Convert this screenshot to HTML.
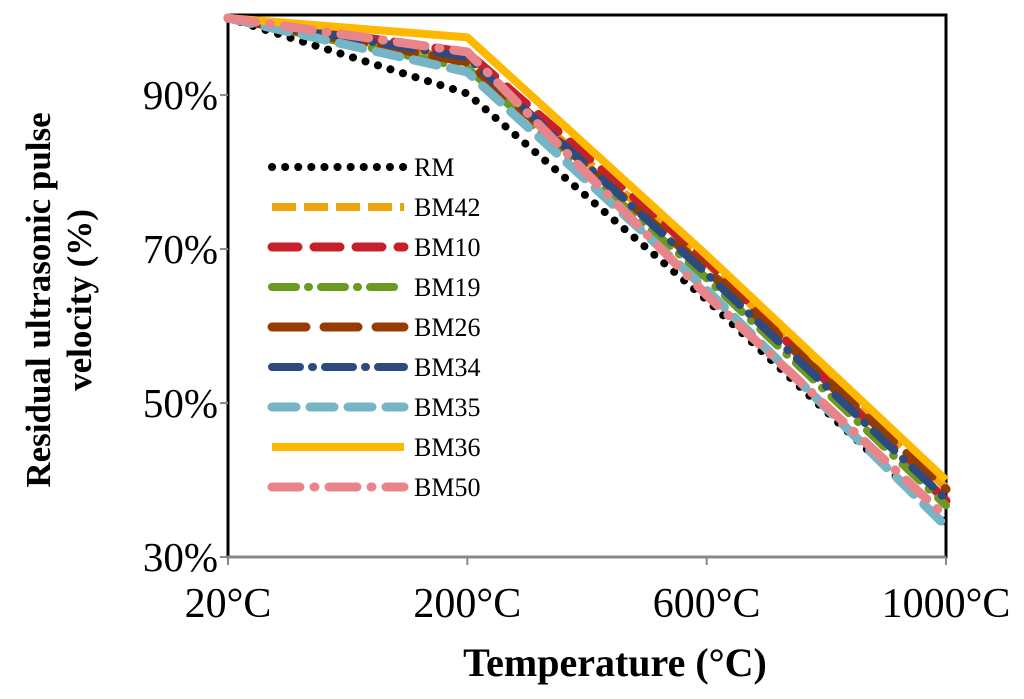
<!DOCTYPE html>
<html><head><meta charset="utf-8"><style>
body{margin:0;background:#fff;width:1024px;height:694px;overflow:hidden}
svg text{font-family:"Liberation Serif",serif}
</style></head><body>
<svg id="c" width="1024" height="694"></svg>
<script>
const categories=["20°C","200°C","600°C","1000°C"];
const yTicks=[30,50,70,90];
const seriesNames=["RM","BM42","BM10","BM19","BM26","BM34","BM35","BM36","BM50"];
const RM=[100,90.2,63.4,34.4];
const BM42=[100,94.5,68.2,39];
const BM10=[100,95.5,68.5,37.3];
const BM19=[100,93.5,66.2,36.7];
const BM26=[100,94.3,67.3,38.8];
const BM34=[100,94.9,66.8,37.5];
const BM35=[100,93,64.7,34];
const BM36=[100,97.5,69.2,40];
const BM50=[100,95.6,64,35.2];
const values=[RM,BM42,BM10,BM19,BM26,BM34,BM35,BM36,BM50];
const styles=[
 {c:"#000",w:8,d:"0.1 13",cap:"round"},
 {c:"#f0a30a",w:8,d:"24 8",cap:"butt"},
 {c:"#c8202a",w:9,d:"26 16",cap:"round"},
 {c:"#6a9a20",w:8,d:"24 12 1 12",cap:"round"},
 {c:"#963c00",w:9,d:"34 18",cap:"round"},
 {c:"#2e4b80",w:8,d:"28 12 1 12",cap:"round"},
 {c:"#75b5c5",w:9,d:"24 14",cap:"round"},
 {c:"#ffb800",w:8,d:"",cap:"butt"},
 {c:"#e8848a",w:9,d:"28 14 1 14",cap:"round"}];
const X0=228,X1=946,Y0=557,Yt=15;
const xs=i=>X0+i*(X1-X0)/(categories.length-1);
const ys=v=>Y0-(v-30)*(Y0-Yt)/70.4;
const svg=document.getElementById('c');const NS="http://www.w3.org/2000/svg";
function mk(t,a,p){const e=document.createElementNS(NS,t);for(const k in a)e.setAttribute(k,a[k]);(p||svg).appendChild(e);return e;}
const fr=mk('rect',{x:X0,y:Yt,width:X1-X0,height:Y0-Yt,fill:"none",stroke:"#000","stroke-width":3});


yTicks.forEach(v=>{const t=mk('text',{x:218,y:ys(v)+14,"text-anchor":"end","font-size":41});t.textContent=v+"%";


mk('line',{x1:X0-8,x2:X0,y1:ys(v),y2:ys(v),stroke:"#888","stroke-width":2});});
mk('line',{x1:X0,x2:X1,y1:Y0,y2:Y0,stroke:"#888","stroke-width":3});
categories.forEach((c,i)=>{const t=mk('text',{x:xs(i),y:617,"text-anchor":"middle","font-size":42});t.textContent=c;


mk('line',{x1:xs(i),x2:xs(i),y1:Y0,y2:Y0+8,stroke:"#888","stroke-width":2});});
values.forEach((vals,s)=>{const st=styles[s];
const p=mk('polyline',{points:vals.map((v,i)=>xs(i)+","+ys(v)).join(" "),fill:"none",stroke:st.c,"stroke-width":st.w,"stroke-dasharray":st.d,"stroke-linecap":st.cap,"stroke-linejoin":"round"});


const ly=167+s*40;
const g=mk('g',{});


mk('line',{x1:272,x2:404,y1:ly,y2:ly,stroke:st.c,"stroke-width":st.w,"stroke-dasharray":st.d,"stroke-linecap":st.cap},g);
const t=mk('text',{x:414,y:ly+9,"font-size":26},g);t.textContent=seriesNames[s];});
const xt=mk('text',{x:615,y:676,"text-anchor":"middle","font-size":40,"font-weight":"bold"});xt.textContent="Temperature (°C)";


const yt=mk('text',{"text-anchor":"middle","font-size":35,"font-weight":"bold"});


const t1=mk('tspan',{x:0,y:0},yt);t1.textContent="Residual ultrasonic pulse";
const t2=mk('tspan',{x:0,y:41},yt);t2.textContent="velocity (%)";
yt.setAttribute('transform','translate(50,300) rotate(-90)');
</script>
</body></html>
